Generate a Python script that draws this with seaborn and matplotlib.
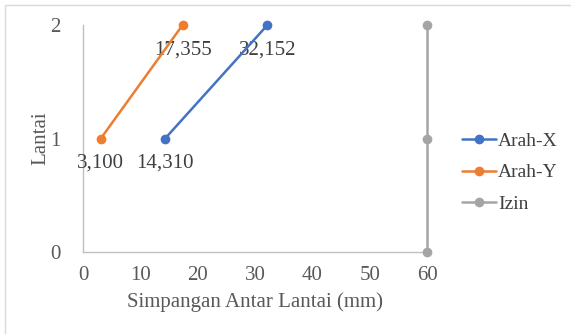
import seaborn as sns
import matplotlib.pyplot as plt
import pandas as pd
from matplotlib.patches import Rectangle

# data
lantai = [1, 2]
arah_x = [14.310, 32.152]
arah_y = [3.100, 17.355]
izin_lantai = [0, 1, 2]
izin = [60, 60, 60]
x_ticks = [0, 10, 20, 30, 40, 50, 60]
y_ticks = [0, 1, 2]

df = pd.concat([
    pd.DataFrame({"x": arah_x, "y": lantai, "seri": "Arah-X"}),
    pd.DataFrame({"x": arah_y, "y": lantai, "seri": "Arah-Y"}),
    pd.DataFrame({"x": izin, "y": izin_lantai, "seri": "Izin"}),
], ignore_index=True)

sns.set_style("white")
plt.rcParams["font.family"] = ["Liberation Serif", "DejaVu Serif"]
text_color = "#595959"
palette = {"Arah-X": "#4472C4", "Arah-Y": "#ED7D31", "Izin": "#A5A5A5"}

fig = plt.figure(figsize=(5.71, 3.34), dpi=100)
ax = fig.add_axes([0.1454, 0.2455, 0.6026, 0.6795])

sns.lineplot(data=df, x="x", y="y", hue="seri", palette=palette,
             estimator=None, sort=False, marker="o", markersize=7,
             markeredgewidth=0, linewidth=1.8, ax=ax)
for ln in ax.lines:
    ln.set_clip_on(False)
    ln.set_zorder(5)

# data labels below each point (comma decimal)
for xs in (arah_x, arah_y):
    for xv, yv in zip(xs, lantai):
        ax.annotate(f"{xv:.3f}".replace(".", ","), (xv, yv),
                    xytext=(0, -18), textcoords="offset points",
                    ha="center", va="center", fontsize=15, color="#404040")

ax.set_xlim(0, 60)
ax.set_ylim(0, 2)
ax.set_xticks(x_ticks)
ax.set_yticks(y_ticks)
ax.tick_params(length=0, labelsize=15, colors=text_color)
ax.tick_params(axis="x", pad=10)
ax.tick_params(axis="y", pad=16)
ax.set_xlabel("Simpangan Antar Lantai (mm)", fontsize=15, color=text_color, labelpad=5)
ax.set_ylabel("Lantai", fontsize=15, color=text_color, labelpad=0)
for s in ("top", "right"):
    ax.spines[s].set_visible(False)
for s in ("left", "bottom"):
    ax.spines[s].set_color("#BFBFBF")
    ax.spines[s].set_linewidth(1.0)

leg = ax.legend(loc="center left", bbox_to_anchor=(1.05, 0.35), frameon=False,
                fontsize=14, handlelength=1.75, handletextpad=0.1, labelspacing=0.7,
                labelcolor="#404040")

fig.add_artist(Rectangle((5 / 571, -0.1), 1.2, 1.1 - 5 / 334, transform=fig.transFigure,
                         fill=False, edgecolor="#D9D9D9", linewidth=1.0))

fig.savefig("out.png", dpi=100)
